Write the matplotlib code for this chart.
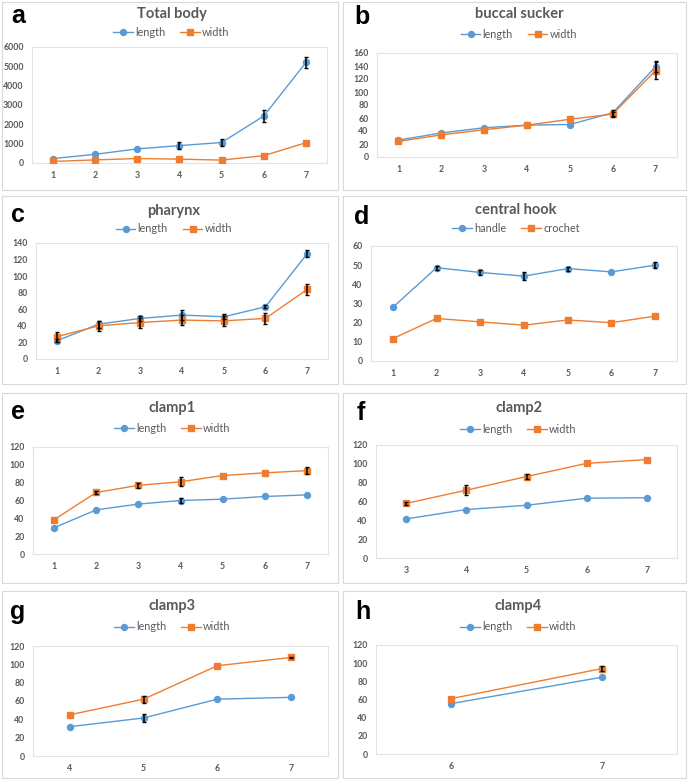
import matplotlib
matplotlib.use("Agg")
import matplotlib.pyplot as plt
from matplotlib.patches import Rectangle

plt.rcParams["font.family"] = ["Lato", "DejaVu Sans"]

W, H = 688, 781
BLUE = "#5B9BD5"
ORANGE = "#ED7D31"
GRAY = "#595959"

# data (x = stage, y = mean, e = error bar)
x_all = [1, 2, 3, 4, 5, 6, 7]

a_len = [230, 450, 730, 900, 1060, 2430, 5200]
a_len_err = [0, 0, 0, 180, 180, 300, 300]
a_wid = [80, 160, 230, 200, 150, 380, 1050]
a_wid_err = [0, 0, 0, 0, 0, 0, 0]

b_len = [26, 37, 45, 49, 50, 68, 139]
b_len_err = [0, 0, 0, 0, 0, 5, 8]
b_wid = [24, 34, 42, 49, 58, 66, 133]
b_wid_err = [0, 0, 0, 0, 0, 4, 13]

c_len = [22, 42, 49, 53, 51, 63, 127]
c_len_err = [2, 4, 3, 6, 3, 2, 4]
c_wid = [27, 40, 44, 47, 46, 49, 84]
c_wid_err = [6, 6, 6, 6, 6, 7, 7]

d_handle = [28, 48.7, 46.2, 44.3, 48.2, 46.5, 50]
d_handle_err = [0, 1, 1.2, 2, 1, 0, 1.5]
d_crochet = [11.7, 22.2, 20.4, 18.7, 21.4, 20, 23.4]
d_crochet_err = [0, 0, 0, 0, 0, 0, 0]

e_len = [29.5, 49.5, 56, 60, 61.5, 64.5, 66.3]
e_len_err = [0, 0, 0, 3, 0, 0, 0]
e_wid = [38.5, 69, 77, 81, 88, 91, 93.5]
e_wid_err = [0, 2, 3, 5, 0, 0, 4]

f_x = [3, 4, 5, 6, 7]
f_len = [41.5, 51.5, 56, 63.5, 64]
f_len_err = [0, 0, 0, 0, 0]
f_wid = [58, 72, 86.5, 100.5, 104.5]
f_wid_err = [2, 5, 3, 0, 0]

g_x = [4, 5, 6, 7]
g_len = [32, 41.5, 62, 64]
g_len_err = [0, 4, 0, 0]
g_wid = [45, 62, 98.5, 107.5]
g_wid_err = [0, 4, 0, 1]

h_x = [6, 7]
h_len = [55.5, 84.5]
h_len_err = [0, 0]
h_wid = [61, 94]
h_wid_err = [0, 3]

fig = plt.figure(figsize=(W / 100, H / 100), dpi=100)
fig.patch.set_facecolor("white")


def fx(px):
    return px / W


def fy(py):
    return 1 - py / H


def errs(ax, x, y, e):
    # only draw bars that are visible in the reference
    keep = [i for i in range(len(x)) if e[i] > 0]
    if keep:
        ax.errorbar([x[i] for i in keep], [y[i] for i in keep], yerr=[e[i] for i in keep],
                    fmt="none", ecolor="black", elinewidth=1.1, capsize=1.6, zorder=4)


def panel(box, plot, letter, title, names, x, s1, e1, s2, e2, ymax, ystep, title_y, leg_y, letter_xy):
    # outer chart border
    x0, y0, x1, y1 = box
    fig.add_artist(Rectangle((fx(x0), fy(y1)), fx(x1 - x0), (y1 - y0) / H,
                             transform=fig.transFigure, fill=False, ec="#D9D9D9", lw=0.8))
    px0, py0, px1, py1 = plot
    ax = fig.add_axes([fx(px0), fy(py1), fx(px1 - px0), (py1 - py0) / H])
    ax.plot(x, s1, color=BLUE, marker="o", ms=4.3, lw=1.0, label=names[0], zorder=3)
    ax.plot(x, s2, color=ORANGE, marker="s", ms=4.3, lw=1.0, label=names[1], zorder=3)
    errs(ax, x, s1, e1)
    errs(ax, x, s2, e2)
    ax.set_xlim(x[0] - 0.5, x[-1] + 0.5)
    ax.set_ylim(0, ymax)
    ax.set_xticks(x)
    ax.set_yticks(range(0, ymax + 1, ystep))
    for sp in ax.spines.values():
        sp.set_color("#E3E3E3")
        sp.set_linewidth(0.8)
    ax.tick_params(length=0, labelsize=6.3, labelcolor=GRAY, pad=6)
    for lab in ax.get_xticklabels() + ax.get_yticklabels():
        lab.set_fontweight("bold")
    cx = (px0 + px1) / 2 - 8
    fig.text(fx(cx), fy(title_y), title, ha="center", va="center",
             fontsize=10.5, color=GRAY, fontweight="bold")
    ax.legend(loc="center", bbox_to_anchor=(fx(cx), fy(leg_y)), bbox_transform=fig.transFigure,
              ncol=2, frameon=False, fontsize=7.8, labelcolor=GRAY, handlelength=1.8,
              handletextpad=0.2, columnspacing=1.4, borderpad=0)
    fig.text(fx(letter_xy[0]), fy(letter_xy[1]), letter, ha="center", va="center",
             fontsize=18, fontweight="bold", color="black", family="Liberation Sans")
    return ax


panel((2, 2, 338, 190), (32, 47, 327, 163), "a", "Total body", ("length", "width"),
      x_all, a_len, a_len_err, a_wid, a_wid_err, 6000, 1000, 14, 32, (18, 16))
panel((343, 2, 686, 190), (377, 53, 677, 157), "b", "buccal sucker", ("length", "width"),
      x_all, b_len, b_len_err, b_wid, b_wid_err, 160, 20, 14, 34, (362, 17))
panel((2, 196, 338, 384), (36, 243, 328, 359), "c", "pharynx", ("length", "width"),
      x_all, c_len, c_len_err, c_wid, c_wid_err, 140, 20, 211, 229, (18, 215))
panel((343, 196, 686, 384), (371, 246, 677, 361), "d", "central hook", ("handle", "crochet"),
      x_all, d_handle, d_handle_err, d_crochet, d_crochet_err, 60, 10, 210, 228, (362, 217))
panel((2, 393, 338, 583), (33, 447, 328, 554), "e", "clamp1", ("length", "width"),
      x_all, e_len, e_len_err, e_wid, e_wid_err, 120, 20, 408, 428, (18, 412))
panel((343, 393, 686, 583), (376, 445, 677, 558), "f", "clamp2", ("length", "width"),
      f_x, f_len, f_len_err, f_wid, f_wid_err, 120, 20, 408, 429, (361, 413))
panel((2, 591, 338, 778), (33, 646, 328, 756), "g", "clamp3", ("length", "width"),
      g_x, g_len, g_len_err, g_wid, g_wid_err, 120, 20, 606, 627, (18, 612))
panel((343, 591, 686, 778), (376, 645, 677, 754), "h", "clamp4", ("length", "width"),
      h_x, h_len, h_len_err, h_wid, h_wid_err, 120, 20, 606, 627, (363, 612))

fig.savefig("out.png", dpi=100, facecolor="white")
